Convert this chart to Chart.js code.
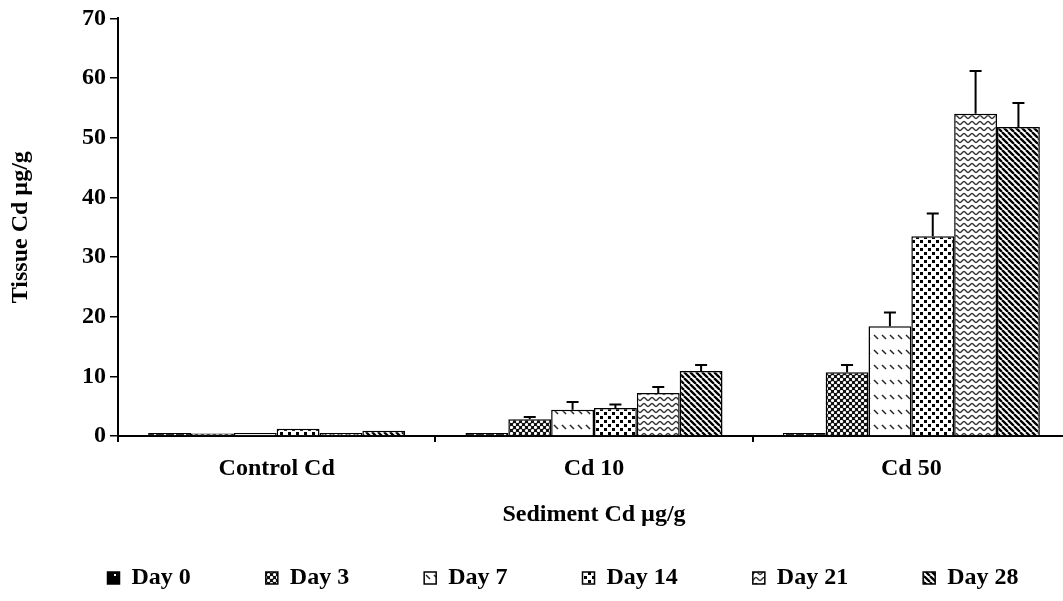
<!DOCTYPE html>
<html>
<head>
<meta charset="utf-8">
<title>Tissue Cd by sediment Cd</title>
<script src="https://cdn.jsdelivr.net/npm/chart.js@4.4.1/dist/chart.umd.min.js"></script>
<style>
  html, body { margin: 0; padding: 0; background: #fff; overflow: hidden; }
  #wrap { width: 1070px; height: 601px; }
</style>
</head>
<body>
<div id="wrap"><canvas id="c" width="1070" height="601"></canvas></div>
<script>
// Sediment treatments (x categories)
const categories = ['Control Cd', 'Cd 10', 'Cd 50'];
// Exposure days (one series each)
const seriesLabels = ['Day 0', 'Day 3', 'Day 7', 'Day 14', 'Day 21', 'Day 28'];

// Mean tissue Cd (µg/g) per treatment
const day0  = [0.5, 0.5, 0.5];
const day3  = [0.4, 2.8, 10.7];
const day7  = [0.5, 4.4, 18.4];
const day14 = [1.2, 4.7, 33.5];
const day21 = [0.5, 7.2, 54.0];
const day28 = [0.9, 10.9, 51.8];

// Upper error (SE) per treatment
const err0  = [0, 0, 0];
const err3  = [0, 0.4, 1.2];
const err7  = [0, 1.3, 2.3];
const err14 = [0, 0.6, 3.8];
const err21 = [0, 1.0, 7.2];
const err28 = [0, 1.0, 4.0];

// Y axis tick values
const yTicks = [0, 10, 20, 30, 40, 50, 60, 70];

const FONT = "'Liberation Serif', 'Times New Roman', Times, serif";
const canvas = document.getElementById('c');
const ctx0 = canvas.getContext('2d');

// Monochrome fill patterns, one per exposure day
function tile(w, h, draw) {
  const t = document.createElement('canvas');
  t.width = w; t.height = h;
  const g = t.getContext('2d');
  draw(g, w, h);
  return ctx0.createPattern(t, 'repeat');
}

const patDay0 = tile(10, 10, (g) => {
  g.fillStyle = '#000'; g.fillRect(0, 0, 10, 10);
  g.fillStyle = '#fff'; g.fillRect(4, 4, 2, 2);
});
const patDay3 = tile(6, 6, (g) => {
  g.fillStyle = '#111'; g.fillRect(0, 0, 6, 6);
  g.fillStyle = '#fff';
  g.beginPath(); g.arc(1.5, 1.5, 1.6, 0, Math.PI * 2); g.fill();
  g.beginPath(); g.arc(4.5, 4.5, 1.6, 0, Math.PI * 2); g.fill();
});
const patDay7 = tile(8, 15, (g) => {
  g.fillStyle = '#fff'; g.fillRect(0, 0, 8, 15);
  g.strokeStyle = '#222'; g.lineWidth = 1.4;
  g.beginPath(); g.moveTo(2, 5); g.lineTo(6, 9); g.stroke();
});
const patDay14 = tile(8, 8, (g) => {
  g.fillStyle = '#fff'; g.fillRect(0, 0, 8, 8);
  g.fillStyle = '#000';
  g.fillRect(0, 0, 3, 3);
  g.fillRect(4, 4, 3, 3);
});
const patDay21 = tile(8, 6, (g) => {
  g.fillStyle = '#fff'; g.fillRect(0, 0, 8, 6);
  g.strokeStyle = '#333'; g.lineWidth = 1.4;
  g.beginPath();
  g.moveTo(0, 4.5);
  g.bezierCurveTo(1.5, 4.5, 2.5, 1.5, 4, 1.5);
  g.bezierCurveTo(5.5, 1.5, 6.5, 4.5, 8, 4.5);
  g.stroke();
});
const patDay28 = tile(6, 6, (g) => {
  g.fillStyle = '#fff'; g.fillRect(0, 0, 6, 6);
  g.strokeStyle = '#000'; g.lineWidth = 2.3;
  g.beginPath();
  for (const x0 of [-6, 0, 6]) { g.moveTo(x0, 0); g.lineTo(x0 + 6, 6); }
  g.stroke();
});

const seriesValues = [day0, day3, day7, day14, day21, day28];
const seriesErrors = [err0, err3, err7, err14, err21, err28];
const seriesFills = [patDay0, patDay3, patDay7, patDay14, patDay21, patDay28];

const datasets = seriesLabels.map((label, i) => ({
  label,
  data: seriesValues[i],
  errorPlus: seriesErrors[i],
  backgroundColor: seriesFills[i],
  borderColor: '#000',
  borderWidth: 1.5,
  barPercentage: 1.0,
  categoryPercentage: 0.81
}));

// Upper error bars with caps, placed from each bar's value via the y scale
const errorBars = {
  id: 'errorBars',
  afterDatasetsDraw(chart) {
    const { ctx, scales: { y } } = chart;
    ctx.save();
    ctx.strokeStyle = '#000';
    ctx.lineWidth = 2;
    chart.data.datasets.forEach((ds, i) => {
      const meta = chart.getDatasetMeta(i);
      meta.data.forEach((bar, j) => {
        const e = ds.errorPlus[j];
        if (!e) return;
        const top = y.getPixelForValue(ds.data[j] + e);
        ctx.beginPath();
        ctx.moveTo(bar.x, bar.y);
        ctx.lineTo(bar.x, top);
        ctx.moveTo(bar.x - 6, top);
        ctx.lineTo(bar.x + 6, top);
        ctx.stroke();
      });
    });
    ctx.restore();
  }
};

// Legend row: wide gaps between entries, no extra space above the row
const LEGEND_GAP = 75;
const LEGEND_SHIFT = 28;
const legendRow = {
  id: 'legendRow',
  afterLayout(chart) {
    const lg = chart.legend;
    if (!lg) return;
    lg.top -= LEGEND_GAP;
    lg.left += LEGEND_SHIFT;
    lg.right += LEGEND_SHIFT;
  }
};

const PLOT_BOTTOM = 436;
const LEGEND_H = 35;
const TEXT = { family: FONT, size: 24, weight: 'bold' };

new Chart(canvas, {
  type: 'bar',
  data: { labels: categories, datasets },
  plugins: [errorBars, legendRow],
  options: {
    responsive: false,
    animation: false,
    devicePixelRatio: 1,
    layout: { padding: { top: 18, left: 0, right: 0, bottom: 0 } },
    scales: {
      x: {
        offset: true,
        border: { display: true, color: '#000', width: 2 },
        grid: { display: true, offset: true, drawOnChartArea: false, drawTicks: true, tickLength: 6, color: '#000', lineWidth: 2 },
        ticks: { color: '#000', padding: 12, font: TEXT },
        title: {
          display: true,
          text: 'Sediment Cd µg/g',
          color: '#000',
          font: TEXT,
          padding: { top: 0, bottom: 37 }
        },
        afterFit(scale) { scale.height = 601 - PLOT_BOTTOM - LEGEND_H; }
      },
      y: {
        min: 0,
        max: 70,
        border: { display: true, color: '#000', width: 2 },
        grid: { display: true, drawOnChartArea: false, drawTicks: true, tickLength: 8, color: '#000', lineWidth: 1.5 },
        ticks: { color: '#000', padding: 4, font: TEXT },
        afterBuildTicks(scale) { scale.ticks = yTicks.map(v => ({ value: v })); },
        title: {
          display: true,
          text: 'Tissue Cd µg/g',
          color: '#000',
          font: TEXT,
          padding: { top: 6, bottom: 0 }
        },
        afterFit(scale) { scale.width = 118; }
      }
    },
    plugins: {
      tooltip: { enabled: false },
      legend: {
        position: 'bottom',
        maxHeight: LEGEND_H,
        labels: {
          color: '#000',
          boxWidth: 12,
          boxHeight: 12,
          padding: LEGEND_GAP,
          font: TEXT
        }
      }
    }
  }
});
</script>
</body>
</html>
